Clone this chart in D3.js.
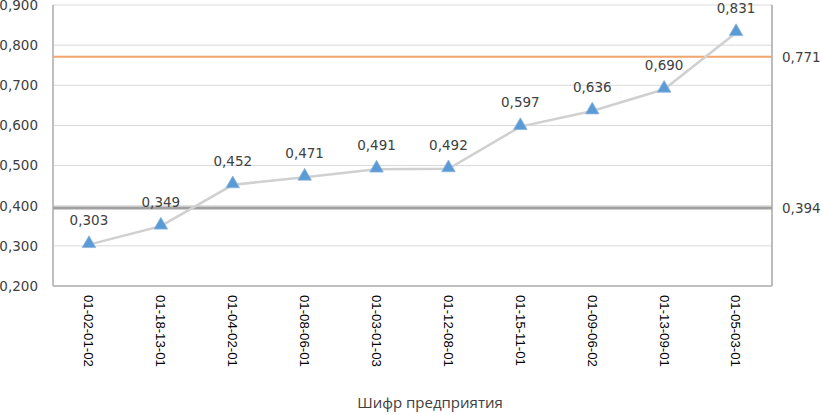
<!DOCTYPE html>
<html>
<head>
<meta charset="utf-8">
<script src="https://cdn.jsdelivr.net/npm/d3@7/dist/d3.min.js"></script>
<style>
  body { margin: 0; background: #fff; }
  svg { display: block; }
</style>
</head>
<body>
<div id="chart"></div>
<script>
var categories = ["01-02-01-02", "01-18-13-01", "01-04-02-01", "01-08-06-01", "01-03-01-03",
                  "01-12-08-01", "01-15-11-01", "01-09-06-02", "01-13-09-01", "01-05-03-01"];
var values = [0.303, 0.349, 0.452, 0.471, 0.491, 0.492, 0.597, 0.636, 0.690, 0.831];
var yTicks = [0.2, 0.3, 0.4, 0.5, 0.6, 0.7, 0.8, 0.9];
var upperLevel = 0.771;
var lowerLevel = 0.394;

var width = 821, height = 415;
var margin = {left: 53, right: 49, top: 5, bottom: 129};

var fmt = function(v) { return d3.format(".3f")(v).replace(".", ","); };

var svg = d3.select("#chart").append("svg")
    .attr("width", width)
    .attr("height", height);

var x = d3.scaleBand()
    .domain(categories)
    .range([margin.left, width - margin.right]);

var y = d3.scaleLinear()
    .domain([0.2, 0.9])
    .range([height - margin.bottom, margin.top]);

// gridlines
svg.append("g").selectAll("line")
    .data(yTicks)
    .enter().append("line")
    .attr("x1", margin.left).attr("x2", width - margin.right)
    .attr("y1", function(d) { return y(d); })
    .attr("y2", function(d) { return y(d); })
    .style("stroke", "#d9d9d9")
    .style("stroke-width", 1);

// y axis labels
var yAxis = d3.axisLeft(y).tickValues(yTicks).tickFormat(fmt).tickSize(0).tickPadding(15);
var ya = svg.append("g")
    .attr("transform", "translate(" + margin.left + ",0)")
    .call(yAxis);
ya.select(".domain").remove();
ya.selectAll("text")
    .style("font-family", "DejaVu Sans")
    .style("font-size", "13.5px")
    .style("fill", "#404040");

// frame: left, bottom, right
svg.append("line")
    .attr("x1", margin.left).attr("x2", margin.left)
    .attr("y1", y(0.9)).attr("y2", y(0.2))
    .style("stroke", "#bfbfbf").style("stroke-width", 2);
svg.append("line")
    .attr("x1", width - margin.right).attr("x2", width - margin.right)
    .attr("y1", y(0.9)).attr("y2", y(0.2))
    .style("stroke", "#a6a6a6").style("stroke-width", 1.5);
svg.append("line")
    .attr("x1", margin.left).attr("x2", width - margin.right)
    .attr("y1", y(0.2)).attr("y2", y(0.2))
    .style("stroke", "#bfbfbf").style("stroke-width", 2);

// x axis labels
var xAxis = d3.axisBottom(x).tickSize(0).tickPadding(0);
var xa = svg.append("g")
    .attr("transform", "translate(0," + y(0.2) + ")")
    .call(xAxis);
xa.select(".domain").remove();
xa.selectAll("text")
    .attr("transform", "rotate(90)")
    .attr("x", 9)
    .attr("y", 0)
    .attr("dy", "0.35em")
    .style("text-anchor", "start")
    .style("font-family", "Liberation Sans")
    .style("font-size", "13.2px")
    .style("fill", "#000");

// level lines
svg.append("line")
    .attr("x1", margin.left).attr("x2", width - margin.right)
    .attr("y1", y(upperLevel)).attr("y2", y(upperLevel))
    .style("stroke", "#f4a46e").style("stroke-width", 2);
svg.append("line")
    .attr("x1", margin.left).attr("x2", width - margin.right)
    .attr("y1", y(lowerLevel)).attr("y2", y(lowerLevel))
    .style("stroke", "#a0a0a0").style("stroke-width", 3);

svg.selectAll(".level-label")
    .data([upperLevel, lowerLevel])
    .enter().append("text")
    .attr("class", "level-label")
    .attr("x", width - margin.right + 10)
    .attr("y", function(d) { return y(d); })
    .attr("dy", "0.35em")
    .text(fmt)
    .style("font-family", "DejaVu Sans")
    .style("font-size", "13.5px")
    .style("fill", "#404040");

// series line
var cx = function(d, i) { return x(categories[i]) + x.bandwidth() / 2; };
var line = d3.line()
    .x(cx)
    .y(function(d) { return y(d); });

svg.append("path")
    .datum(values)
    .attr("d", line)
    .style("fill", "none")
    .style("stroke", "#d0d0d0")
    .style("stroke-width", 2.5);

// triangle markers
svg.selectAll(".marker")
    .data(values)
    .enter().append("path")
    .attr("class", "marker")
    .attr("d", d3.symbol().type(d3.symbolTriangle).size(80))
    .attr("transform", function(d, i) { return "translate(" + cx(d, i) + "," + (y(d) - 1) + ")"; })
    .style("fill", "#5b9bd5")
    .style("stroke", "#8db4e0")
    .style("stroke-width", 0.8);

// data labels
svg.selectAll(".dlabel")
    .data(values)
    .enter().append("text")
    .attr("class", "dlabel")
    .attr("x", cx)
    .attr("y", function(d) { return y(d) - 24; })
    .attr("dy", "0.35em")
    .attr("text-anchor", "middle")
    .text(fmt)
    .style("font-family", "DejaVu Sans")
    .style("font-size", "13.5px")
    .style("fill", "#404040");

// axis title
svg.append("text")
    .attr("x", 430)
    .attr("y", 403)
    .attr("dy", "0.35em")
    .attr("text-anchor", "middle")
    .text("Шифр предприятия")
    .style("font-family", "Open Sans")
    .style("font-size", "15px")
    .style("fill", "#404040");
</script>
</body>
</html>
